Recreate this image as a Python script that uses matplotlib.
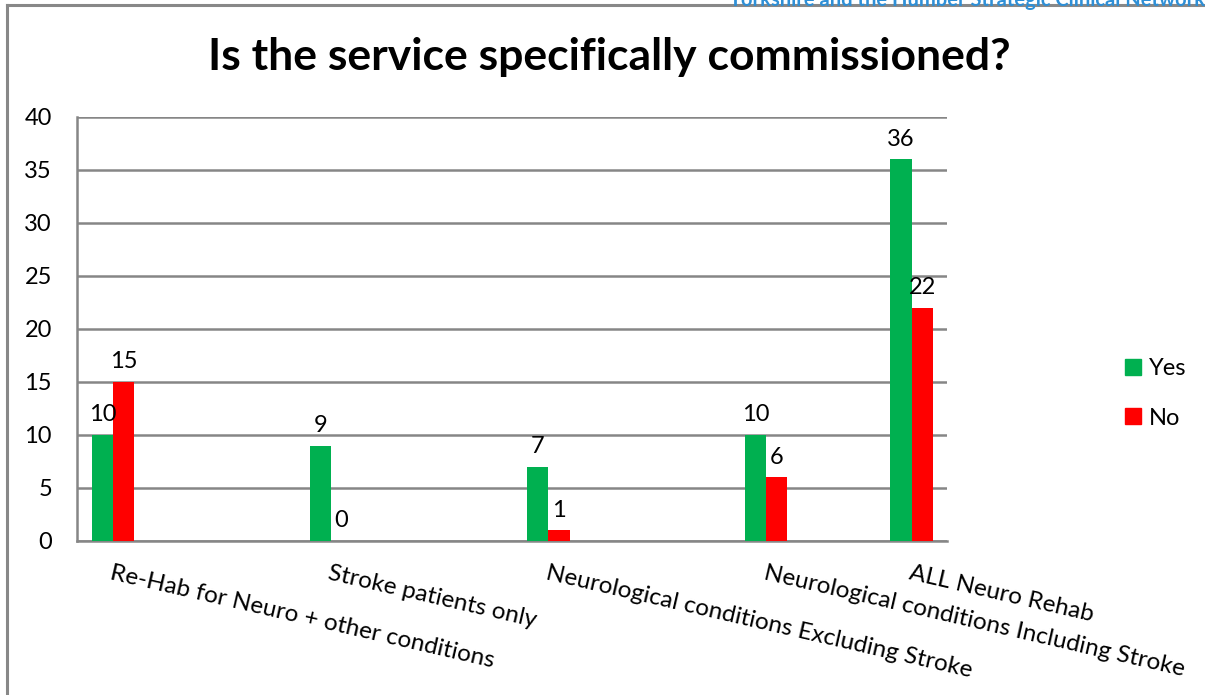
import matplotlib.pyplot as plt
import numpy as np
from matplotlib.lines import Line2D

plt.rcParams['font.family'] = ['Lato', 'DejaVu Sans']

# data
categories = ["Re-Hab for Neuro + other conditions",
              "Stroke patients only",
              "Neurological conditions Excluding Stroke",
              "Neurological conditions Including Stroke",
              "ALL Neuro Rehab"]
yes_vals = [10, 9, 7, 10, 36]
no_vals = [15, 0, 1, 6, 22]
series_names = ["Yes", "No"]
title = "Is the service specifically commissioned?"

# layout (category centres as placed in the original chart)
xpos = np.array([0, 1, 2, 3, 3.667])
bw = 0.097
green = '#00B050'
red = '#FF0000'
grid_col = '#868686'

fig = plt.figure(figsize=(12.05, 6.95), dpi=100)
ax = fig.add_axes([0.0639, 0.2216, 0.7220, 0.6101])

ax.bar(xpos - bw / 2, yes_vals, bw, color=green, label=series_names[0], zorder=3)
ax.bar(xpos + bw / 2, no_vals, bw, color=red, label=series_names[1], zorder=3)

for x, v in zip(xpos - bw / 2, yes_vals):
    ax.annotate(str(v), (x, v), xytext=(0, 7), textcoords='offset points',
                ha='center', va='bottom', fontsize=17)
for x, v in zip(xpos + bw / 2, no_vals):
    ax.annotate(str(v), (x, v), xytext=(0, 7), textcoords='offset points',
                ha='center', va='bottom', fontsize=17)

ax.set_ylim(0, 40)
ax.set_yticks(np.arange(0, 41, 5))
ax.set_xlim(-0.165, 3.83)
ax.yaxis.grid(True, color=grid_col, linewidth=1.8, zorder=0)
ax.tick_params(axis='y', length=0, labelsize=17, pad=18)
ax.tick_params(axis='x', length=0)
ax.set_xticks([])
for s in ['top', 'right']:
    ax.spines[s].set_visible(False)
for s in ['left', 'bottom']:
    ax.spines[s].set_color(grid_col)
    ax.spines[s].set_linewidth(1.8)

# rotated category labels, anchored top-left at each category centre
for x, lab in zip(xpos, categories):
    ax.text(x, -2.0, lab, rotation=-13, rotation_mode='anchor',
            ha='left', va='top', fontsize=17.5)

fig.text(0.506, 0.918, title, ha='center', va='center',
         fontsize=32, fontweight='bold')

handles = [Line2D([], [], marker='s', linestyle='none', markersize=11, color=green),
           Line2D([], [], marker='s', linestyle='none', markersize=11, color=red)]
fig.legend(handles, series_names, loc='center left', bbox_to_anchor=(0.921, 0.434),
           frameon=False, fontsize=17, labelspacing=1.2, handletextpad=0.15,
           handlelength=1.0, borderpad=0)

# outer chart border and cut-off header text
fig.add_artist(Line2D([0.0062, 0.0062], [0, 0.9935], transform=fig.transFigure,
                      color='#888888', linewidth=2.2))
fig.add_artist(Line2D([0.0062, 1], [0.9935, 0.9935], transform=fig.transFigure,
                      color='#888888', linewidth=2.2))
fig.text(1.0, 1.0, "Yorkshire and the Humber Strategic Clinical Network",
         ha='right', va='center', fontsize=14.5, fontweight='bold', color='#2E8FD6')

fig.savefig('out.png', dpi=100)
